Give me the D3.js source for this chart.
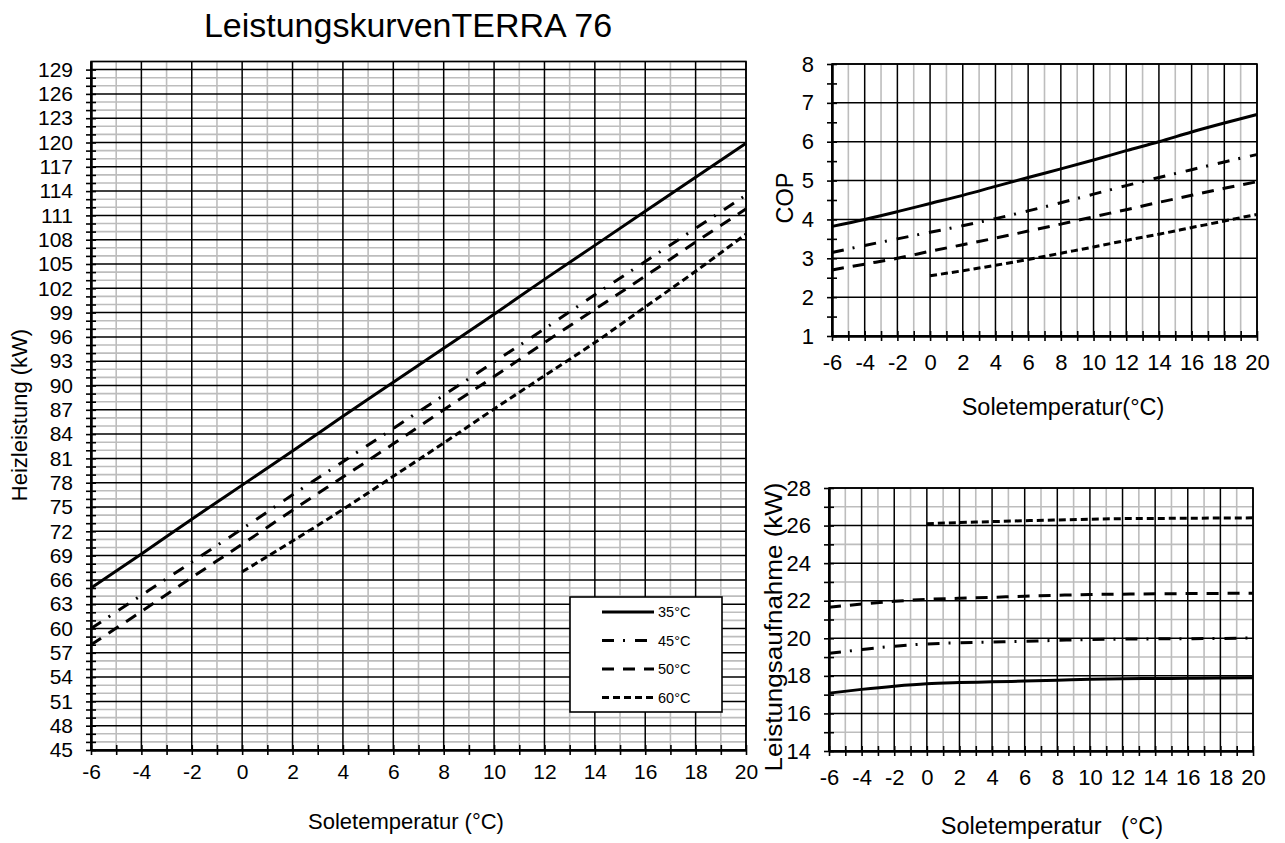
<!DOCTYPE html>
<html>
<head>
<meta charset="utf-8">
<script src="https://cdn.jsdelivr.net/npm/d3@7/dist/d3.min.js"></script>
<style>
  html, body { margin: 0; padding: 0; background: #fff; }
  svg text { font-family: "Liberation Sans", Arial, Helvetica, sans-serif; fill: #000; }
</style>
</head>
<body>
<svg id="chart" width="1285" height="843"></svg>
<script>
// ---------------- DATA ----------------
const titleText = "LeistungskurvenTERRA 76";
const seriesNames = ["35°C", "45°C", "50°C", "60°C"];

const temps = [-6, -4, -2, 0, 2, 4, 6, 8, 10, 12, 14, 16, 18, 20];
const temps60 = [0, 2, 4, 6, 8, 10, 12, 14, 16, 18, 20];

// Heizleistung (kW)
const heat35 = [65.0, 69.2, 73.5, 77.7, 81.9, 86.2, 90.4, 94.6, 98.8, 103.1, 107.3, 111.5, 115.7, 119.9];
const heat45 = [60.0, 64.1, 68.2, 72.3, 76.5, 80.6, 84.7, 88.8, 92.9, 97.0, 101.2, 105.3, 109.4, 113.5];
const heat50 = [58.0, 62.1, 66.3, 70.4, 74.6, 78.7, 82.8, 87.0, 91.1, 95.3, 99.4, 103.5, 107.7, 111.8];
const heat60 = [67.0, 70.8, 74.7, 78.8, 82.9, 87.1, 91.2, 95.3, 99.7, 104.1, 108.7];

// COP
const cop35 = [3.82, 4.0, 4.2, 4.41, 4.62, 4.85, 5.08, 5.3, 5.53, 5.77, 6.0, 6.25, 6.48, 6.7];
const cop45 = [3.15, 3.33, 3.5, 3.67, 3.84, 4.02, 4.22, 4.43, 4.65, 4.87, 5.08, 5.28, 5.48, 5.67];
const cop50 = [2.7, 2.85, 3.0, 3.18, 3.35, 3.52, 3.7, 3.88, 4.07, 4.25, 4.44, 4.62, 4.8, 4.97];
const cop60 = [2.55, 2.68, 2.82, 2.97, 3.13, 3.29, 3.46, 3.62, 3.79, 3.96, 4.13];

// Leistungsaufnahme (kW)
const pow35 = [17.08, 17.28, 17.45, 17.58, 17.64, 17.68, 17.72, 17.77, 17.82, 17.85, 17.86, 17.87, 17.88, 17.9];
const pow45 = [19.2, 19.4, 19.58, 19.7, 19.76, 19.8, 19.84, 19.89, 19.93, 19.96, 19.97, 19.98, 19.99, 20.02];
const pow50 = [21.65, 21.82, 21.97, 22.07, 22.13, 22.18, 22.24, 22.29, 22.33, 22.35, 22.37, 22.38, 22.39, 22.4];
const pow60 = [26.1, 26.16, 26.21, 26.26, 26.3, 26.34, 26.37, 26.38, 26.39, 26.4, 26.41];

// Ticks
const xLabelTicks = [-6, -4, -2, 0, 2, 4, 6, 8, 10, 12, 14, 16, 18, 20];
const xMinorTicks = [-6,-5,-4,-3,-2,-1,0,1,2,3,4,5,6,7,8,9,10,11,12,13,14,15,16,17,18,19,20];
const heatLabelTicks = [45,48,51,54,57,60,63,66,69,72,75,78,81,84,87,90,93,96,99,102,105,108,111,114,117,120,123,126,129];
const heatMinorTicks = d3.range(45, 131, 1);
const copLabelTicks = [1, 2, 3, 4, 5, 6, 7, 8];
const copMinorTicks = [1,1.5,2,2.5,3,3.5,4,4.5,5,5.5,6,6.5,7,7.5,8];
const powLabelTicks = [14, 16, 18, 20, 22, 24, 26, 28];
const powMinorTicks = [14,15,16,17,18,19,20,21,22,23,24,25,26,27,28];

// ---------------- STYLE ----------------
const dashes = [null, "12,9,2,10", "12,9", "7,4"];
const FONT = '"Liberation Sans", Arial, Helvetica, sans-serif';
const GREY = "#bdbdbd";

const svg = d3.select("#chart");

function drawPanel(o) {
  const x = d3.scaleLinear().domain(o.xDomain).range([o.left, o.right]);
  const y = d3.scaleLinear().domain(o.yDomain).range([o.bottom, o.top]);
  const g = svg.append("g");

  g.selectAll(".vg").data(o.xGrey).enter().append("line")
    .attr("x1", d => x(d)).attr("x2", d => x(d))
    .attr("y1", o.top).attr("y2", o.bottom)
    .attr("stroke", GREY).attr("stroke-width", 1.6);
  g.selectAll(".hg").data(o.yGrey).enter().append("line")
    .attr("x1", o.left).attr("x2", o.right)
    .attr("y1", d => y(d)).attr("y2", d => y(d))
    .attr("stroke", GREY).attr("stroke-width", 1.6);
  g.selectAll(".vb").data(o.xBlack).enter().append("line")
    .attr("x1", d => x(d)).attr("x2", d => x(d))
    .attr("y1", o.top).attr("y2", o.bottom)
    .attr("stroke", "#000").attr("stroke-width", 1.5);
  g.selectAll(".hb").data(o.yBlack).enter().append("line")
    .attr("x1", o.left).attr("x2", o.right)
    .attr("y1", d => y(d)).attr("y2", d => y(d))
    .attr("stroke", "#000").attr("stroke-width", 1.5);
  g.append("rect").attr("x", o.left).attr("y", o.top)
    .attr("width", o.right - o.left).attr("height", o.bottom - o.top)
    .attr("fill", "none").attr("stroke", "#000").attr("stroke-width", 1.6);

  const line = d3.line().x(d => x(d[0])).y(d => y(d[1])).curve(d3.curveMonotoneX);
  o.series.forEach((s, i) => {
    g.append("path")
      .datum(s.xs.map((t, k) => [t, s.ys[k]]))
      .attr("d", line)
      .attr("fill", "none").attr("stroke", "#000")
      .attr("stroke-width", 3)
      .attr("stroke-dasharray", dashes[i]);
  });

  function styleAxis(sel) {
    sel.select(".domain").attr("stroke", "#000").attr("stroke-width", 2);
    sel.selectAll(".tick line").attr("stroke", "#000").attr("stroke-width", 1.6);
  }
  const bx = o.bottom;
  g.append("g").attr("transform", `translate(0,${bx})`)
    .call(d3.axisBottom(x).tickValues(xMinorTicks).tickSizeInner(-5).tickSizeOuter(0).tickFormat(""))
    .call(styleAxis);
  g.append("g").attr("transform", `translate(0,${bx})`)
    .call(d3.axisBottom(x).tickValues(xMinorTicks).tickSizeInner(5).tickSizeOuter(0).tickFormat(""))
    .call(styleAxis);
  const xl = g.append("g").attr("transform", `translate(0,${bx})`)
    .call(d3.axisBottom(x).tickValues(xLabelTicks).tickSize(0).tickPadding(o.xPad).tickFormat(d => String(d)));
  xl.select(".domain").remove();
  xl.selectAll("text").attr("font-size", o.tickFont).attr("font-family", FONT).attr("fill", "#000");

  g.append("g").attr("transform", `translate(${o.left},0)`)
    .call(d3.axisLeft(y).tickValues(o.yMinor).tickSizeInner(-5).tickSizeOuter(0).tickFormat(""))
    .call(styleAxis);
  g.append("g").attr("transform", `translate(${o.left},0)`)
    .call(d3.axisLeft(y).tickValues(o.yMinor).tickSizeInner(5).tickSizeOuter(0).tickFormat(""))
    .call(styleAxis);
  const yl = g.append("g").attr("transform", `translate(${o.left},0)`)
    .call(d3.axisLeft(y).tickValues(o.yLabels).tickSize(0).tickPadding(o.yPad).tickFormat(d => String(d)));
  yl.select(".domain").remove();
  yl.selectAll("text").attr("font-size", o.tickFont).attr("font-family", FONT).attr("fill", "#000");

  g.append("text").attr("x", o.xTitle.x).attr("y", o.xTitle.y)
    .attr("text-anchor", "middle").attr("font-size", o.titleFont)
    .style("white-space", "pre")
    .text(o.xTitle.text);
  const yt = g.append("text")
    .attr("transform", `translate(${o.yTitle.x},${o.yTitle.y}) rotate(-90)`)
    .attr("text-anchor", "middle").attr("font-size", o.titleFont)
    .style("white-space", "pre")
    .text(o.yTitle.text);
  if (o.yTitle.len) yt.attr("textLength", o.yTitle.len).attr("lengthAdjust", "spacingAndGlyphs");
  return { x, y, g };
}

const evens = xLabelTicks;
const odds = xMinorTicks.filter(v => v % 2 !== 0);

// ---------- Main chart: Heizleistung ----------
const main = drawPanel({
  left: 91, right: 746, top: 61.5, bottom: 750,
  xDomain: [-6, 20], yDomain: [45, 130],
  xGrey: odds, xBlack: evens,
  yGrey: heatMinorTicks.filter(v => (v - 45) % 3 !== 0),
  yBlack: heatLabelTicks,
  yMinor: heatMinorTicks.filter(v => v <= 129), yLabels: heatLabelTicks,
  tickFont: "21px", titleFont: "22px", xPad: 14, yPad: 18,
  series: [
    { xs: temps, ys: heat35 }, { xs: temps, ys: heat45 },
    { xs: temps, ys: heat50 }, { xs: temps60, ys: heat60 }
  ],
  xTitle: { x: 406, y: 829, text: "Soletemperatur (°C)" },
  yTitle: { x: 27, y: 415, text: "Heizleistung (kW)" }
});

// legend
const lg = main.g.append("g");
lg.append("rect").attr("x", 570).attr("y", 597).attr("width", 152).attr("height", 115)
  .attr("fill", "#fff").attr("stroke", "#000").attr("stroke-width", 1.6);
const legendY = d3.scalePoint().domain(seriesNames).range([612, 697.5]);
seriesNames.forEach((name, i) => {
  lg.append("line").attr("x1", 602).attr("x2", 654)
    .attr("y1", legendY(name)).attr("y2", legendY(name))
    .attr("stroke", "#000").attr("stroke-width", 3)
    .attr("stroke-dasharray", dashes[i]);
  lg.append("text").attr("x", 658).attr("y", legendY(name))
    .attr("dy", "0.36em").attr("font-size", "14.5px").text(name);
});

// title
svg.append("text").attr("x", 408).attr("y", 37).attr("text-anchor", "middle")
  .attr("font-size", "34px").text(titleText);

// ---------- COP chart ----------
drawPanel({
  left: 832, right: 1257, top: 64, bottom: 336,
  xDomain: [-6, 20], yDomain: [1, 8],
  xGrey: odds, xBlack: evens,
  yGrey: [], yBlack: copLabelTicks,
  yMinor: copMinorTicks, yLabels: copLabelTicks,
  tickFont: "22px", titleFont: "23.5px", xPad: 18, yPad: 18,
  series: [
    { xs: temps, ys: cop35 }, { xs: temps, ys: cop45 },
    { xs: temps, ys: cop50 }, { xs: temps60, ys: cop60 }
  ],
  xTitle: { x: 1063, y: 415, text: "Soletemperatur(°C)" },
  yTitle: { x: 793, y: 198, text: "COP" }
});

// ---------- Leistungsaufnahme chart ----------
drawPanel({
  left: 829, right: 1253, top: 488, bottom: 751,
  xDomain: [-6, 20], yDomain: [14, 28],
  xGrey: odds, xBlack: evens,
  yGrey: powMinorTicks.filter(v => v % 2 !== 0), yBlack: powLabelTicks,
  yMinor: powMinorTicks, yLabels: powLabelTicks,
  tickFont: "22px", titleFont: "23.5px", xPad: 18, yPad: 18,
  series: [
    { xs: temps, ys: pow35 }, { xs: temps, ys: pow45 },
    { xs: temps, ys: pow50 }, { xs: temps60, ys: pow60 }
  ],
  xTitle: { x: 1052, y: 834, text: "Soletemperatur   (°C)" },
  yTitle: { x: 782, y: 627, text: "Leistungsaufnahme (kW)", len: 289 }
});
</script>
</body>
</html>
